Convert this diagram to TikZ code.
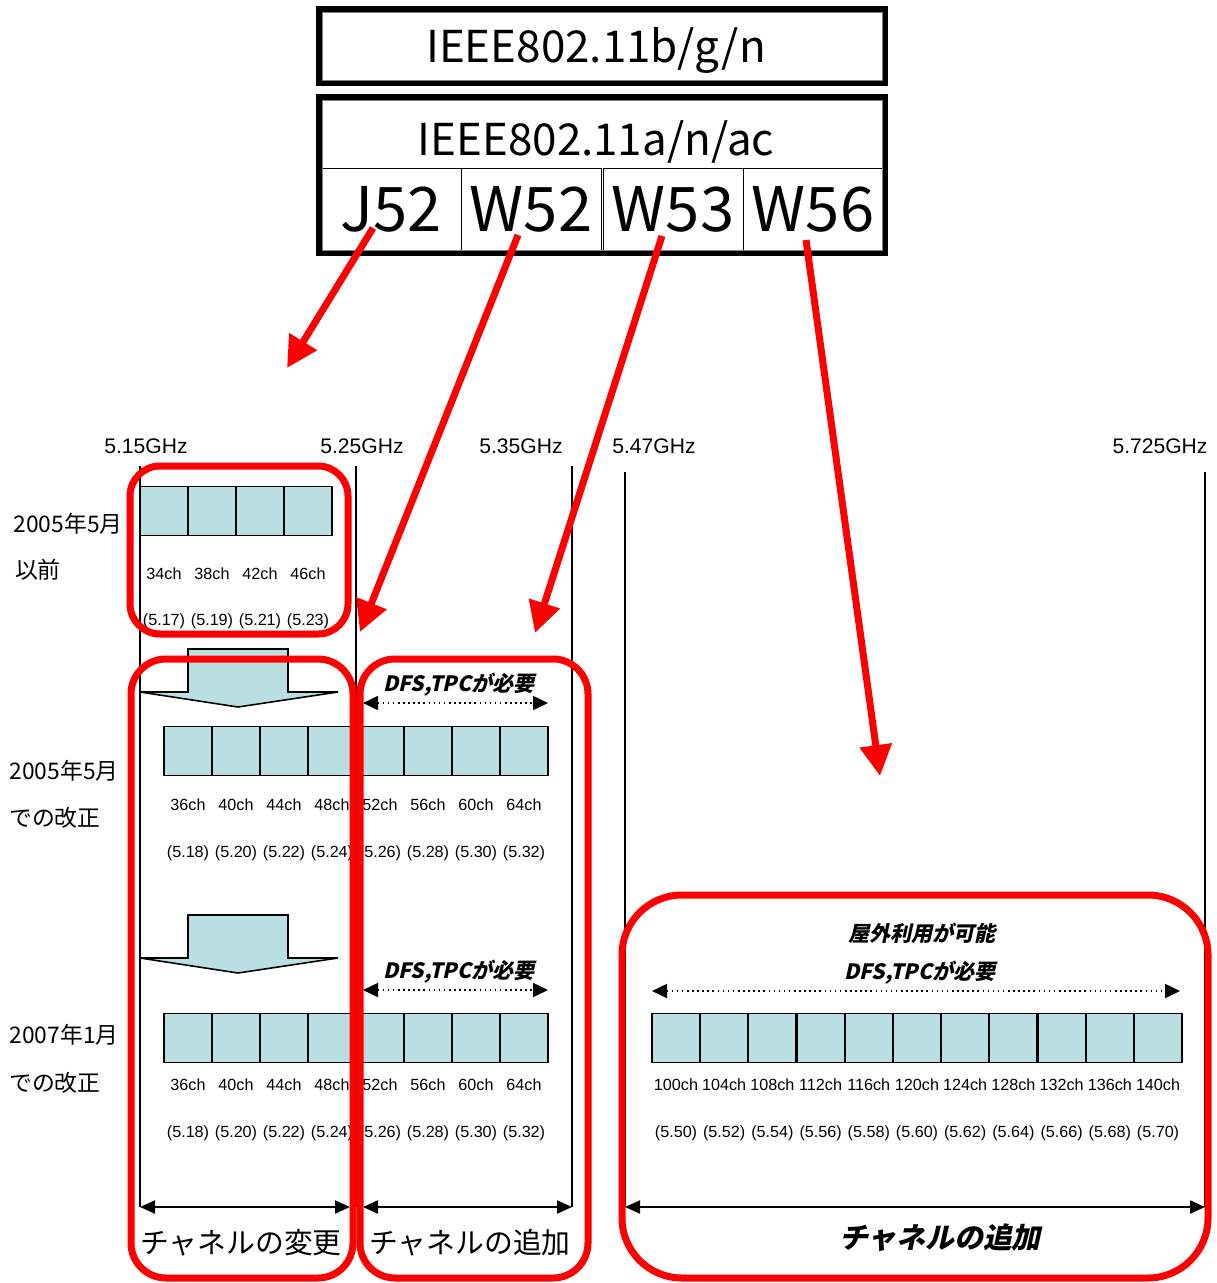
\documentclass[tikz,border=0pt]{standalone}
\usepackage{fontspec}
\setmainfont{Liberation Sans}
\newfontfamily\jpfont{Noto Sans CJK JP}
\newfontfamily\jpslant[FakeSlant=0.22]{Noto Sans CJK JP}
\usepackage{tikz}
\usetikzlibrary{arrows.meta,positioning,calc}
\definecolor{chBlue}{HTML}{B9DFE2}
\definecolor{frRed}{HTML}{FF0000}

\begin{document}
\begin{tikzpicture}[x=0.02cm,y=-0.02cm,
  hdr/.style={draw,line width=3.4pt,minimum width=11.32cm,inner sep=0pt},
  band/.style={draw,line width=0.5pt,minimum width=2.8cm,minimum height=1.64cm,
               inner sep=0pt,text depth=0pt,font=\jpfont\fontsize{35}{37}\selectfont},
  chan/.style={draw,line width=1.1pt,fill=chBlue,minimum width=0.96cm,
               minimum height=0.98cm,inner sep=0pt},
  chlbl/.style={font=\fontsize{9.2}{11}\selectfont,inner sep=0pt},
  freq/.style={font=\fontsize{12}{14}\selectfont,inner sep=0pt},
  yr/.style={font=\jpfont\fontsize{13}{15}\selectfont,inner sep=0pt},
  dfs/.style={font=\jpslant\bfseries\fontsize{12}{14}\selectfont,inner sep=0pt},
  vline/.style={draw,line width=0.9pt},
  dotarr/.style={{Triangle[length=0.3cm,width=0.28cm]}-{Triangle[length=0.3cm,width=0.28cm]},
                 line width=0.9pt,dotted},
  dimarr/.style={{Triangle[length=0.3cm,width=0.26cm]}-{Triangle[length=0.3cm,width=0.26cm]},
                 line width=1.2pt},
  blockarr/.style={draw,line width=0.9pt,fill=chBlue},
  redbox/.style={draw=frRed,line width=0.14cm,rounded corners=0.7cm},
  redarr/.style={draw=frRed,line width=0.14cm,-{Triangle[length=0.62cm,width=0.62cm]}}]

\useasboundingbox (0,0) rectangle (1216,1283);

% standards table
\node[hdr,minimum height=1.48cm] (std1) at (602,46) {};
\draw[line width=0.4pt,gray] ($(std1.north west)+(6,6)$) rectangle ($(std1.south east)+(-6,-6)$);
\node[font=\jpfont\fontsize{25}{27}\selectfont,inner sep=0pt] (std1t) at (596,51) {IEEE802.11b/g/n};

\node[band] (j52) at (391,209) {J52};
\node[band] (w52) at (531,209) {W52};
\node[band] (w53) at (673,209) {W53};
\node[band] (w56) at (813,209) {W56};
\node[hdr,minimum height=3.12cm] (std2) at (602,175) {};
\draw[line width=0.4pt,gray] ($(std2.north west)+(6,6)$) rectangle ($(std2.south east)+(-6,-6)$);
\node[font=\jpfont\fontsize{25}{27}\selectfont,inner sep=0pt] (std2t) at (596,142) {IEEE802.11a/n/ac};

% frequency scale
\node[freq] (f515) at (146,446) {5.15GHz};
\node[freq] (f525) at (362,446) {5.25GHz};
\node[freq] (f535) at (521,446) {5.35GHz};
\node[freq] (f547) at (654,446) {5.47GHz};
\node[freq] (f5725) at (1160,446) {5.725GHz};

\coordinate (s1) at (140,1207);
\coordinate (s2) at (356,1207);
\coordinate (s3) at (572,1207);
\coordinate (s4) at (625,1207);
\coordinate (s5) at (1205,1207);
\draw[vline] (140,466) -- (s1);
\draw[vline] (356,466) -- (s2);
\draw[vline] (572,466) -- (s3);
\draw[vline] (625,472) -- (s4);
\draw[vline] (1205,472) -- (s5);

% row labels
\node[yr] (y1a) at (68,524) {2005年5月};
\node[yr] (y1b) at (38,570) {以前};
\node[yr] (y2a) at (64,771) {2005年5月};
\node[yr] (y2b) at (55,818) {での改正};
\node[yr] (y3a) at (64,1035) {2007年1月};
\node[yr] (y3b) at (55,1083) {での改正};

% channels before 2005
\foreach \ch/\fr [count=\i from 0] in {34/5.17,38/5.19,42/5.21,46/5.23} {
  \node[chan] (a\i) at (164+48*\i,511) {};
  \node[chlbl] (an\i) at (164+48*\i,574) {\ch ch};
  \node[chlbl] (af\i) at (164+48*\i,621) {(\fr)};
}

% block arrows
\foreach \dy in {0,266}
  \draw[blockarr] (188,649+\dy) -- (288,649+\dy) -- (288,692+\dy) -- (338,692+\dy)
    -- (238,707+\dy) -- (140,692+\dy) -- (188,692+\dy) -- cycle;

% channels 2005 and 2007
\foreach \ch/\fr [count=\i from 0] in {36/5.18,40/5.20,44/5.22,48/5.24,52/5.26,56/5.28,60/5.30,64/5.32} {
  \node[chan] (b\i) at (188+48*\i,751) {};
  \node[chlbl] (bn\i) at (188+48*\i,805) {\ch ch};
  \node[chlbl] (bf\i) at (188+48*\i,853) {(\fr)};
  \node[chan] (c\i) at (188+48*\i,1038) {};
  \node[chlbl] (cn\i) at (188+48*\i,1085) {\ch ch};
  \node[chlbl] (cf\i) at (188+48*\i,1133) {(\fr)};
}

% W56 channels
\foreach \ch/\fr [count=\i from 0] in {100/5.50,104/5.52,108/5.54,112/5.56,116/5.58,120/5.60,124/5.62,128/5.64,132/5.66,136/5.68,140/5.70} {
  \node[chan] (d\i) at (676+48.2*\i,1038) {};
  \node[chlbl] (dn\i) at (676+48.2*\i,1085) {\ch ch};
  \node[chlbl] (df\i) at (676+48.2*\i,1133) {(\fr)};
}

% DFS / TPC notes
\node[dfs] (dfs1) at (459,685) {DFS,TPCが必要};
\coordinate (d1l) at (363,703);
\coordinate (d1r) at (548,703);
\draw[dotarr] (d1l) -- (d1r);
\node[dfs] (dfs2) at (459,972) {DFS,TPCが必要};
\coordinate (d2l) at (363,990);
\coordinate (d2r) at (548,990);
\draw[dotarr] (d2l) -- (d2r);
\node[dfs] (outd) at (922,933) {屋外利用が可能};
\node[dfs] (dfs3) at (920,973) {DFS,TPCが必要};
\coordinate (d3l) at (652,991);
\coordinate (d3r) at (1180,991);
\draw[dotarr] (d3l) -- (d3r);

% bottom spans
\draw[dimarr] (s1) -- ([xshift=-0.12cm]s2);
\draw[dimarr] ([xshift=0.14cm]s2) -- (s3);
\draw[dimarr] (s4) -- (s5);
\node[font=\jpfont\fontsize{16.4}{18}\selectfont,inner sep=0pt] (chg) at (241,1243) {チャネルの変更};
\node[font=\jpfont\fontsize{16.4}{18}\selectfont,inner sep=0pt] (add1) at (470,1243) {チャネルの追加};
\node[font=\jpslant\bfseries\fontsize{16.4}{18}\selectfont,inner sep=0pt] (add2) at (940,1238) {チャネルの追加};

% red frames
\draw[redbox,rounded corners=0.6cm] (130,466) rectangle (348,634);
\draw[redbox] (131,659) rectangle (353,1278);
\draw[redbox] (360,659) rectangle (588,1278);
\draw[redbox,rounded corners=1.2cm] (622,895) rectangle (1208,1278);

% red pointers
\coordinate (ta) at (287,368);
\coordinate (tb) at (360,632);
\coordinate (tc) at (535,633);
\coordinate (td) at (880,776);
\draw[redarr] ($(j52.center)+(-18,19)$) -- (ta);
\draw[redarr] ($(w52.center)+(-13,26)$) -- (tb);
\draw[redarr] ($(w53.center)+(-11,27)$) -- (tc);
\draw[redarr] ($(w56.center)+(-7,31)$) -- (td);
\end{tikzpicture}
\end{document}
